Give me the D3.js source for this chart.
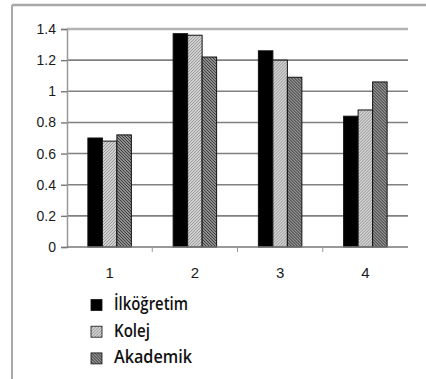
<!DOCTYPE html>
<html>
<head>
<meta charset="utf-8">
<script src="https://cdn.jsdelivr.net/npm/d3@7"></script>
<style>
  html, body { margin: 0; padding: 0; background: #fff; }
  svg { display: block; }
</style>
</head>
<body>
<svg id="chart" width="426" height="379"></svg>
<script>
// Category labels along the x axis
const categories = ["1", "2", "3", "4"];
// Series names (legend order)
const seriesNames = ["İlköğretim", "Kolej", "Akademik"];
// Values per series, one per category
const ilkogretim = [0.70, 1.37, 1.26, 0.84];
const kolej      = [0.68, 1.36, 1.20, 0.88];
const akademik   = [0.72, 1.22, 1.09, 1.06];
// Y axis tick values and their labels
const yTicks = [0, 0.2, 0.4, 0.6, 0.8, 1, 1.2, 1.4];
const yTickLabels = ["0", "0.2", "0.4", "0.6", "0.8", "1", "1.2", "1.4"];

(function () {
const seriesValues = [ilkogretim, kolej, akademik];
const rows = categories.map((c, i) => ({
  cat: c,
  vals: seriesNames.map((s, j) => ({ key: s, idx: j, value: seriesValues[j][i] }))
}));

const svg = d3.select("#chart");

// Patterns for the hatched fills
const defs = svg.append("defs");
const pLight = defs.append("pattern")
  .attr("id", "hatchLight").attr("patternUnits", "userSpaceOnUse")
  .attr("width", 3).attr("height", 3);
pLight.append("rect").attr("width", 3).attr("height", 3).attr("fill", "#d4d4d4");
pLight.append("path").attr("d", "M0,3 L3,0 M-1,1 L1,-1 M2,4 L4,2")
  .attr("stroke", "#8a8a8a").attr("stroke-width", 0.9);

const pDark = defs.append("pattern")
  .attr("id", "hatchDark").attr("patternUnits", "userSpaceOnUse")
  .attr("width", 3).attr("height", 3);
pDark.append("rect").attr("width", 3).attr("height", 3).attr("fill", "#939393");
pDark.append("path").attr("d", "M0,0 L3,3 M-1,2 L1,4 M2,-1 L4,1")
  .attr("stroke", "#333").attr("stroke-width", 1);

const fills = ["#000", "url(#hatchLight)", "url(#hatchDark)"];

// Outer frame (top and left edges)
svg.append("line").attr("x1", 12).attr("x2", 426).attr("y1", 5).attr("y2", 5)
  .attr("stroke", "#a8a8a8").attr("stroke-width", 2.5);
svg.append("line").attr("x1", 12).attr("x2", 12).attr("y1", 5).attr("y2", 379)
  .attr("stroke", "#a8a8a8").attr("stroke-width", 2);

// Plot area
const pLeft = 67, pRight = 408, pTop = 29, pBottom = 247;

const x0 = d3.scaleBand().domain(categories).range([pLeft, pRight]).paddingInner(0.49).paddingOuter(0.245);
const x1 = d3.scaleBand().domain(seriesNames).range([0, x0.bandwidth()]).padding(0);
const y = d3.scaleLinear().domain([0, 1.4]).range([pBottom, pTop]);

// Gridlines
svg.append("g").selectAll("line").data(yTicks.filter(t => t > 0)).join("line")
  .attr("x1", pLeft).attr("x2", pRight)
  .attr("y1", d => y(d)).attr("y2", d => y(d))
  .attr("stroke", d => d === 1.4 ? "#b4b4b4" : "#808080")
  .attr("stroke-width", d => d === 1.4 ? 2.5 : 1.6);

// Y axis
const yAxis = d3.axisLeft(y).tickValues(yTicks)
  .tickFormat((d, i) => yTickLabels[i]).tickSize(6).tickPadding(5);
const gy = svg.append("g").attr("transform", `translate(${pLeft},0)`).call(yAxis);
gy.select(".domain").attr("stroke", "#999").attr("stroke-width", 1.5);
gy.selectAll(".tick line").attr("stroke", "#777").attr("stroke-width", 1.4);
gy.selectAll(".tick text").attr("font-family", "Liberation Sans, Arial, sans-serif")
  .attr("font-size", 14).attr("fill", "#1a1a1a");

// Bars
const groups = svg.append("g").selectAll("g").data(rows).join("g")
  .attr("transform", d => `translate(${x0(d.cat)},0)`);
groups.selectAll("rect").data(d => d.vals).join("rect")
  .attr("x", d => x1(d.key))
  .attr("y", d => y(d.value))
  .attr("width", x1.bandwidth())
  .attr("height", d => y(0) - y(d.value))
  .attr("fill", d => fills[d.idx])
  .attr("stroke", "#111").attr("stroke-width", 1);

// X axis
const xStep = (pRight - pLeft) / categories.length;
const xAxisG = svg.append("g");
xAxisG.append("line").attr("x1", pLeft).attr("x2", pRight).attr("y1", pBottom).attr("y2", pBottom)
  .attr("stroke", "#777").attr("stroke-width", 1.6);
xAxisG.selectAll("line.tk").data(d3.range(1, categories.length)).join("line")
  .attr("class", "tk")
  .attr("x1", d => pLeft + d * xStep).attr("x2", d => pLeft + d * xStep)
  .attr("y1", pBottom).attr("y2", pBottom + 5)
  .attr("stroke", "#999").attr("stroke-width", 1);
xAxisG.selectAll("text").data(categories).join("text")
  .attr("x", d => x0(d) + x0.bandwidth() / 2)
  .attr("y", 278)
  .attr("text-anchor", "middle")
  .attr("font-family", "Liberation Sans, Arial, sans-serif")
  .attr("font-size", 15).attr("fill", "#1a1a1a")
  .text(d => d);

// Legend
const legend = svg.append("g").selectAll("g").data(seriesNames).join("g")
  .attr("transform", (d, i) => `translate(91,${305 + i * 26.7})`);
legend.append("rect").attr("x", 0).attr("y", -5.5).attr("width", 11).attr("height", 11)
  .attr("fill", (d, i) => fills[i]).attr("stroke", "#111").attr("stroke-width", 0.8);
legend.append("text").attr("x", 23).attr("y", 5)
  .attr("font-family", "Open Sans, sans-serif").attr("font-size", 18).attr("font-weight", 600)
  .attr("fill", "#111")
  .attr("textLength", (d, i) => [74, 36, 78][i])
  .attr("lengthAdjust", "spacingAndGlyphs")
  .text(d => d);
})();
</script>
</body>
</html>
